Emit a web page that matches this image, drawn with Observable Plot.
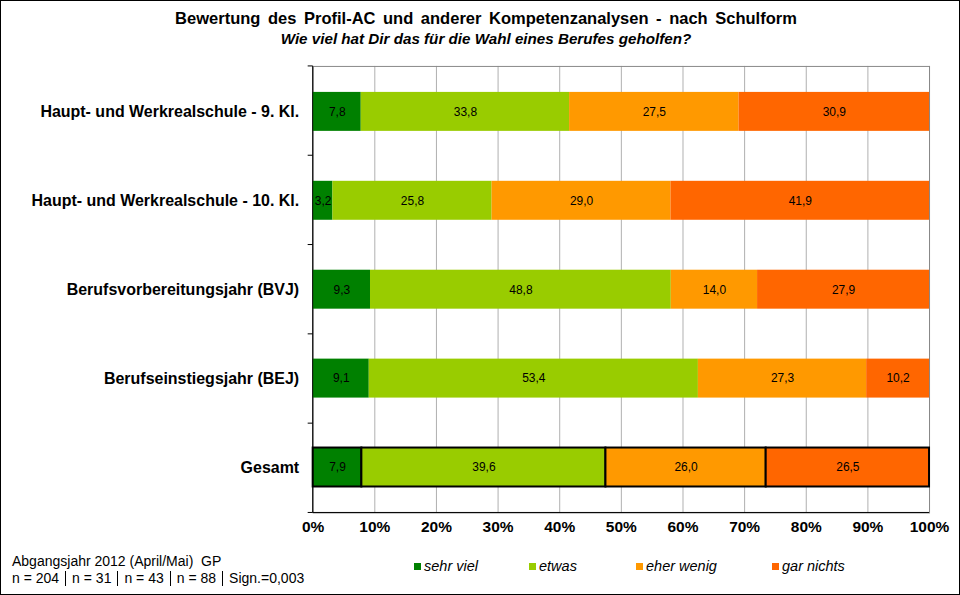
<!DOCTYPE html>
<html>
<head>
<meta charset="utf-8">
<script src="https://cdn.jsdelivr.net/npm/d3@7"></script>
<script src="https://cdn.jsdelivr.net/npm/@observablehq/plot@0.6"></script>
<style>
  html, body { margin: 0; padding: 0; background: #fff; }
  #wrap { position: relative; width: 958px; height: 593px; border: 1px solid #000; overflow: hidden; font-family: "Liberation Sans", Arial, sans-serif; }
  #chart { position: absolute; left: -1px; top: -1px; }
  .title { position: absolute; left: 0; width: 970px; text-align: center; color: #000; }
  #t1 { top: 8px; font-size: 16.5px; font-weight: bold; word-spacing: 3px; }
  #t2 { top: 29px; font-size: 15.2px; font-weight: bold; font-style: italic; }
  #note { position: absolute; left: 11px; top: 552px; font-size: 14px; line-height: 17px; color: #000; }
  .sep { display: inline-block; width: 0; height: 15px; border-left: 1px solid #000; vertical-align: -3px; margin: 0 6px; }
  #legend { position: absolute; top: 557px; left: 0; width: 960px; height: 20px; }
  .li { position: absolute; font-size: 14.5px; font-style: italic; color: #000; white-space: nowrap; }
  .sw { display: inline-block; width: 7px; height: 7px; margin-right: 3px; vertical-align: 1px; }
</style>
</head>
<body>
<div id="wrap">
  <div id="chart"></div>
  <div class="title" id="t1">Bewertung des Profil-AC und anderer Kompetenzanalysen - nach Schulform</div>
  <div class="title" id="t2">Wie viel hat Dir das für die Wahl eines Berufes geholfen?</div>
  <div id="note">Abgangsjahr 2012 (April/Mai)&nbsp; GP<br>n = 204<span class="sep"></span>n = 31<span class="sep"></span>n = 43<span class="sep"></span>n = 88<span class="sep"></span>Sign.=0,003</div>
  <div id="legend"></div>
</div>
<script>
const categories = [
  "Haupt- und Werkrealschule - 9. Kl.",
  "Haupt- und Werkrealschule - 10. Kl.",
  "Berufsvorbereitungsjahr (BVJ)",
  "Berufseinstiegsjahr (BEJ)",
  "Gesamt"
];
const levels = ["sehr viel", "etwas", "eher wenig", "gar nichts"];
const colors = ["#008000", "#99CC00", "#FF9900", "#FF6600"];
const sehrViel  = [7.8, 3.2, 9.3, 9.1, 7.9];
const etwas     = [33.8, 25.8, 48.8, 53.4, 39.6];
const eherWenig = [27.5, 29.0, 14.0, 27.3, 26.0];
const garNichts = [30.9, 41.9, 27.9, 10.2, 26.5];
const xTicks = [0, 0.1, 0.2, 0.3, 0.4, 0.5, 0.6, 0.7, 0.8, 0.9, 1.0];
const legendX = [413, 528, 635, 771];

const series = [sehrViel, etwas, eherWenig, garNichts];
const data = [];
categories.forEach((c, i) => {
  levels.forEach((l, j) => data.push({cat: c, level: l, value: series[j][i]}));
});
const fmt = v => v.toFixed(1).replace(".", ",");
const normal = data.filter(d => d.cat !== "Gesamt");
const total = data.filter(d => d.cat === "Gesamt");

const stackOpts = {x: "value", y: "cat", z: "level", order: levels, offset: "normalize"};

const boundaryTicks = (index, scales, values, dimensions) => {
  const {marginTop, marginBottom, marginLeft, height} = dimensions;
  const g = d3.create("svg:g");
  const n = categories.length;
  const h = height - marginTop - marginBottom;
  for (let i = 0; i <= n; i++) {
    const yy = marginTop + i * h / n;
    g.append("line").attr("x1", marginLeft - 5).attr("x2", marginLeft)
      .attr("y1", yy).attr("y2", yy).attr("stroke", "#000");
  }
  g.append("line").attr("x1", marginLeft).attr("x2", marginLeft)
    .attr("y1", marginTop).attr("y2", height - marginBottom).attr("stroke", "#000");
  g.append("line").attr("x1", marginLeft).attr("x2", dimensions.width - dimensions.marginRight)
    .attr("y1", height - marginBottom).attr("y2", height - marginBottom).attr("stroke", "#000");
  return g.node();
};

const chart = Plot.plot({
  width: 960,
  height: 595,
  marginLeft: 313,
  marginRight: 30,
  marginTop: 66,
  marginBottom: 82,
  style: {fontFamily: "Liberation Sans, Arial, sans-serif", background: "transparent"},
  x: {domain: [0, 1], ticks: xTicks, tickFormat: d => Math.round(d * 100) + "%", tickSize: 0, tickPadding: 8, label: null},
  y: {domain: categories, paddingInner: 0.56, paddingOuter: 0.28, tickSize: 0, tickPadding: 14, label: null},
  color: {domain: levels, range: colors},
  marks: [
    Plot.gridX(xTicks, {stroke: "#b0b0b0", strokeOpacity: 1}),
    Plot.frame({stroke: "#888"}),
    Plot.barX(normal, Plot.stackX({...stackOpts, fill: "level"})),
    Plot.barX(total, Plot.stackX({...stackOpts, fill: "level", stroke: "#000", strokeWidth: 2})),
    Plot.text(data, Plot.stackX({...stackOpts, text: d => fmt(d.value), fill: "#000", fontSize: 12})),
    Plot.axisX({ticks: xTicks, tickFormat: d => Math.round(d * 100) + "%", tickSize: 0, tickPadding: 8, fontSize: 15.5, fontWeight: "bold", fill: "#000"}),
    Plot.axisY({tickSize: 0, tickPadding: 14, fontSize: 16, fontWeight: "bold", fill: "#000"}),
    boundaryTicks
  ]
});
document.getElementById("chart").appendChild(chart);

const legend = document.getElementById("legend");
levels.forEach((l, i) => {
  const item = document.createElement("div");
  item.className = "li";
  item.style.left = legendX[i] + "px";
  item.innerHTML = `<span class="sw" style="background:${colors[i]}"></span>${l}`;
  legend.appendChild(item);
});
</script>
</body>
</html>
